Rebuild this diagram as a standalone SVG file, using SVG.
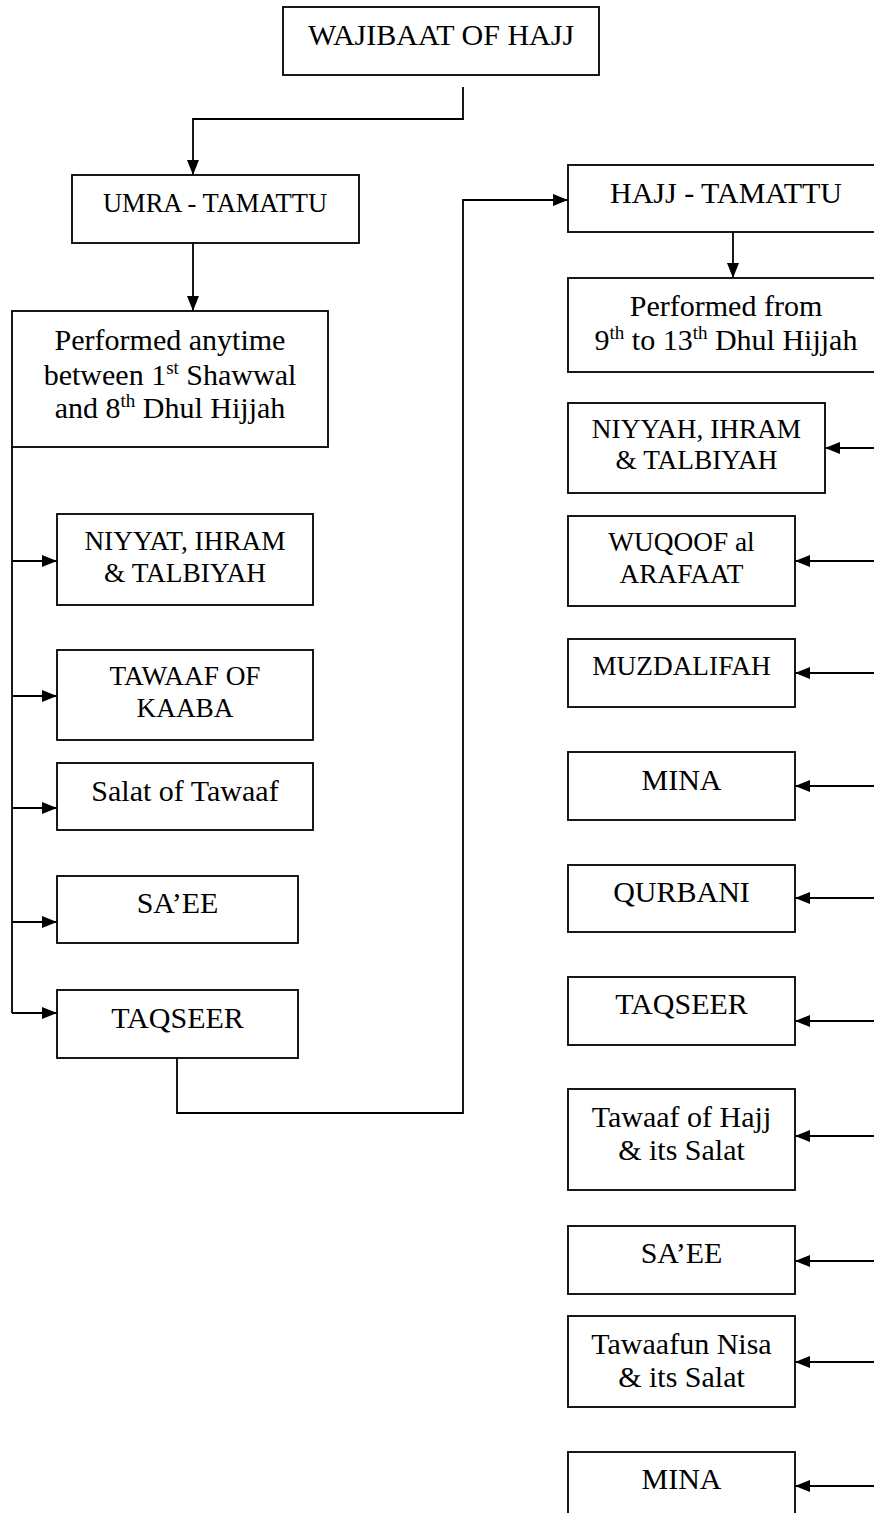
<svg xmlns="http://www.w3.org/2000/svg" width="874" height="1513" viewBox="0 0 874 1513">
<style>
.box{fill:#fff;stroke:#000;stroke-width:1.8}
.t{font-family:"Liberation Serif","Times New Roman",serif;font-size:30px;text-anchor:middle;fill:#000}
.s{font-size:27.3px}
.c{fill:none;stroke:#000;stroke-width:1.8}
.a{fill:none;stroke:#000;stroke-width:1.8;marker-end:url(#ah)}
</style>
<defs>
<marker id="ah" viewBox="0 0 15 12" refX="15" refY="6" markerWidth="15" markerHeight="12" orient="auto" markerUnits="userSpaceOnUse">
<path d="M0,0 L15,6 L0,12 z" fill="#000"/>
</marker>
</defs>
<rect width="874" height="1513" fill="#fff"/>
<g id="connectors">
<polyline class="a" points="463,87 463,119 193,119 193,175"/>
<polyline class="a" points="193,243 193,311"/>
<polyline class="c" points="12,447 12,1013"/>
<polyline class="a" points="12,561 57,561"/>
<polyline class="a" points="12,696 57,696"/>
<polyline class="a" points="12,808 57,808"/>
<polyline class="a" points="12,922 57,922"/>
<polyline class="a" points="12,1013 57,1013"/>
<polyline class="a" points="177,1058 177,1113 463,1113 463,200 568,200"/>
<polyline class="a" points="733,232 733,278"/>
<polyline class="a" points="874,448 825,448"/>
<polyline class="a" points="874,561 795,561"/>
<polyline class="a" points="874,673 795,673"/>
<polyline class="a" points="874,786 795,786"/>
<polyline class="a" points="874,898 795,898"/>
<polyline class="a" points="874,1021 795,1021"/>
<polyline class="a" points="874,1136 795,1136"/>
<polyline class="a" points="874,1261 795,1261"/>
<polyline class="a" points="874,1362 795,1362"/>
<polyline class="a" points="874,1486 795,1486"/>
</g>
<g id="wajibaat"><rect class="box" x="283" y="7" width="316" height="68"/><text class="t" x="441" y="45">WAJIBAAT OF HAJJ</text></g>
<g id="umra"><rect class="box" x="72" y="175" width="287" height="68"/><text class="t" x="215" y="212" style="font-size:26.5px">UMRA - TAMATTU</text></g>
<g id="umra-time"><rect class="box" x="12" y="311" width="316" height="136"/>
<text class="t" x="170" y="350">Performed anytime</text>
<text class="t" x="170" y="385">between 1<tspan font-size="19" dy="-11">st</tspan><tspan dy="11"> Shawwal</tspan></text>
<text class="t" x="170" y="418">and 8<tspan font-size="19" dy="-11">th</tspan><tspan dy="11"> Dhul Hijjah</tspan></text></g>
<g id="u-niyyat"><rect class="box" x="57" y="514" width="256" height="91"/><text class="t s" x="185" y="550">NIYYAT, IHRAM</text><text class="t s" x="185" y="582">&amp; TALBIYAH</text></g>
<g id="u-tawaaf"><rect class="box" x="57" y="650" width="256" height="90"/><text class="t s" x="185" y="685">TAWAAF OF</text><text class="t s" x="185" y="717">KAABA</text></g>
<g id="u-salat"><rect class="box" x="57" y="763" width="256" height="67"/><text class="t" x="185" y="801">Salat of Tawaaf</text></g>
<g id="u-saee"><rect class="box" x="57" y="876" width="241" height="67"/><text class="t" x="177.5" y="913">SA’EE</text></g>
<g id="u-taqseer"><rect class="box" x="57" y="990" width="241" height="68"/><text class="t" x="177.5" y="1028">TAQSEER</text></g>
<g id="hajj"><rect class="box" x="568" y="165" width="317" height="67"/><text class="t" x="726" y="203">HAJJ - TAMATTU</text></g>
<g id="hajj-time"><rect class="box" x="568" y="278" width="317" height="94"/>
<text class="t" x="726" y="316">Performed from</text>
<text class="t" x="726" y="350">9<tspan font-size="19" dy="-11">th</tspan><tspan dy="11"> to 13</tspan><tspan font-size="19" dy="-11">th</tspan><tspan dy="11"> Dhul Hijjah</tspan></text></g>
<g id="h-niyyah"><rect class="box" x="568" y="403" width="257" height="90"/><text class="t s" x="696.5" y="438">NIYYAH, IHRAM</text><text class="t s" x="696.5" y="469">&amp; TALBIYAH</text></g>
<g id="h-wuqoof"><rect class="box" x="568" y="516" width="227" height="90"/><text class="t s" x="681.5" y="551">WUQOOF al</text><text class="t s" x="681.5" y="583">ARAFAAT</text></g>
<g id="h-muzdalifah"><rect class="box" x="568" y="639" width="227" height="68"/><text class="t s" x="681.5" y="675">MUZDALIFAH</text></g>
<g id="h-mina1"><rect class="box" x="568" y="752" width="227" height="68"/><text class="t" x="681.5" y="790">MINA</text></g>
<g id="h-qurbani"><rect class="box" x="568" y="865" width="227" height="67"/><text class="t" x="681.5" y="902">QURBANI</text></g>
<g id="h-taqseer"><rect class="box" x="568" y="977" width="227" height="68"/><text class="t" x="681.5" y="1014">TAQSEER</text></g>
<g id="h-tawaaf"><rect class="box" x="568" y="1089" width="227" height="101"/><text class="t" x="681.5" y="1127">Tawaaf of Hajj</text><text class="t" x="681.5" y="1160">&amp; its Salat</text></g>
<g id="h-saee"><rect class="box" x="568" y="1226" width="227" height="68"/><text class="t" x="681.5" y="1263">SA’EE</text></g>
<g id="h-nisa"><rect class="box" x="568" y="1316" width="227" height="91"/><text class="t" x="681.5" y="1354">Tawaafun Nisa</text><text class="t" x="681.5" y="1387">&amp; its Salat</text></g>
<g id="h-mina2"><rect class="box" x="568" y="1452" width="227" height="80"/><text class="t" x="681.5" y="1489">MINA</text></g>
</svg>
